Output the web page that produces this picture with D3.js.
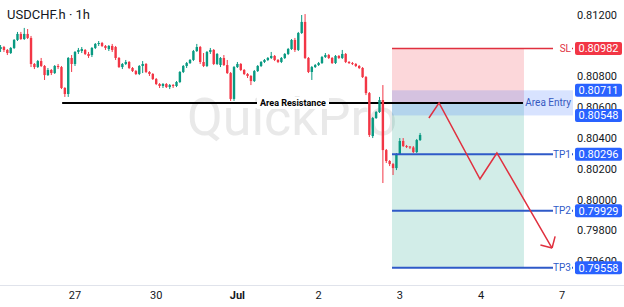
<!DOCTYPE html>
<html>
<head>
<meta charset="utf-8">
<script src="https://cdn.jsdelivr.net/npm/d3@7"></script>
<style>
  body { margin: 0; background: #fff; }
  svg { display: block; font-family: Roboto, "Noto Sans", sans-serif; }
</style>
</head>
<body>
<div id="chart"></div>
<script>
// USDCHF.h 1h bars, index 0 = first visible bar, 24 bars per trading day
const opens = [
  0.80979,0.80992,0.80973,0.80953,0.80986,0.81038,0.81077,0.81044,0.81077,0.81051,
  0.80882,0.80862,0.80901,0.80869,0.80810,0.80843,0.80823,0.80869,0.80862,0.80726,
  0.80687,0.80921,0.80882,0.80960,0.80966,0.80973,0.80947,0.80940,0.80986,0.81012,
  0.81018,0.80999,0.80979,0.80999,0.80992,0.80921,0.80862,0.80882,0.80895,0.80856,
  0.80836,0.80817,0.80869,0.80882,0.80830,0.80817,0.80784,0.80752,0.80739,0.80752,
  0.80732,0.80745,0.80739,0.80765,0.80830,0.80869,0.80888,0.80908,0.80966,0.80992,
  0.80895,0.80869,0.80960,0.80973,0.80882,0.80875,0.80921,0.80875,0.80823,0.80655,
  0.80862,0.80882,0.80843,0.80817,0.80804,0.80771,0.80836,0.80869,0.80895,0.80908,
  0.80921,0.80934,0.80908,0.80895,0.80921,0.80947,0.80979,0.81038,0.80973,0.81083,
  0.81155,0.80921,0.80830,0.80862,0.80875,0.80888,0.80927,0.80940,0.80921,0.80888,
  0.80934,0.80921,0.80947,0.80895,0.80888,0.80882,0.80869,0.80856,0.80797,0.80693,
  0.80414,0.80531,0.80570,0.80648,0.80323,0.80252,0.80232,0.80206,0.80297,0.80382,
  0.80349,0.80346,0.80340,0.80310,0.80388
];
const highs = [
  0.81005,0.80999,0.80979,0.80992,0.81044,0.81090,0.81090,0.81116,0.81109,0.81064,
  0.80888,0.80908,0.80921,0.80875,0.80856,0.80849,0.80875,0.80882,0.80869,0.80732,
  0.80927,0.80940,0.80966,0.80986,0.80992,0.80979,0.80960,0.80992,0.81018,0.81031,
  0.81025,0.81005,0.81005,0.81012,0.80999,0.80927,0.80888,0.80908,0.80901,0.80862,
  0.80843,0.80875,0.80901,0.80888,0.80836,0.80823,0.80791,0.80758,0.80758,0.80758,
  0.80752,0.80752,0.80771,0.80836,0.80875,0.80895,0.80914,0.80973,0.81012,0.80999,
  0.80953,0.80966,0.80986,0.80979,0.80953,0.80927,0.80940,0.80908,0.80830,0.80869,
  0.80895,0.80888,0.80849,0.80823,0.80810,0.80843,0.80875,0.80901,0.80914,0.80927,
  0.80960,0.80940,0.80914,0.80927,0.80953,0.80986,0.81044,0.81051,0.81090,0.81200,
  0.81206,0.80927,0.80869,0.80882,0.80895,0.80934,0.80953,0.80947,0.80927,0.80940,
  0.80940,0.80973,0.80953,0.80901,0.80895,0.80888,0.80875,0.80862,0.80804,0.80700,
  0.80538,0.80577,0.80668,0.80745,0.80330,0.80258,0.80239,0.80304,0.80401,0.80401,
  0.80356,0.80349,0.80349,0.80395,0.80434
];
const lows = [
  0.80960,0.80960,0.80940,0.80947,0.80979,0.81031,0.81038,0.81038,0.81044,0.80862,
  0.80849,0.80856,0.80862,0.80778,0.80804,0.80810,0.80817,0.80849,0.80719,0.80668,
  0.80668,0.80830,0.80869,0.80947,0.80953,0.80940,0.80921,0.80927,0.80979,0.80999,
  0.80992,0.80973,0.80966,0.80960,0.80908,0.80856,0.80849,0.80875,0.80849,0.80830,
  0.80810,0.80810,0.80823,0.80823,0.80804,0.80778,0.80745,0.80726,0.80726,0.80726,
  0.80719,0.80726,0.80732,0.80758,0.80823,0.80856,0.80882,0.80901,0.80960,0.80882,
  0.80862,0.80862,0.80947,0.80875,0.80875,0.80862,0.80869,0.80817,0.80642,0.80642,
  0.80856,0.80836,0.80810,0.80791,0.80745,0.80765,0.80830,0.80862,0.80888,0.80901,
  0.80914,0.80901,0.80888,0.80888,0.80914,0.80940,0.80973,0.80960,0.80966,0.81077,
  0.80914,0.80823,0.80778,0.80856,0.80869,0.80882,0.80921,0.80914,0.80882,0.80882,
  0.80914,0.80914,0.80888,0.80882,0.80875,0.80862,0.80849,0.80791,0.80680,0.80408,
  0.80401,0.80525,0.80564,0.80109,0.80239,0.80219,0.80161,0.80193,0.80291,0.80343,
  0.80336,0.80330,0.80304,0.80304,0.80382
];
const closes = [
  0.80992,0.80973,0.80953,0.80986,0.81038,0.81077,0.81044,0.81077,0.81051,0.80882,
  0.80862,0.80901,0.80869,0.80810,0.80843,0.80823,0.80869,0.80862,0.80726,0.80687,
  0.80921,0.80882,0.80960,0.80973,0.80979,0.80947,0.80934,0.80986,0.81012,0.81018,
  0.80999,0.80986,0.80999,0.80973,0.80921,0.80862,0.80882,0.80895,0.80856,0.80836,
  0.80817,0.80869,0.80882,0.80830,0.80817,0.80784,0.80752,0.80739,0.80752,0.80732,
  0.80745,0.80739,0.80765,0.80830,0.80869,0.80888,0.80908,0.80966,0.80992,0.80895,
  0.80869,0.80960,0.80973,0.80882,0.80947,0.80921,0.80875,0.80823,0.80655,0.80862,
  0.80882,0.80843,0.80817,0.80804,0.80771,0.80836,0.80869,0.80895,0.80908,0.80921,
  0.80934,0.80908,0.80895,0.80921,0.80947,0.80979,0.81038,0.80973,0.81083,0.81155,
  0.80921,0.80830,0.80862,0.80875,0.80888,0.80927,0.80940,0.80921,0.80888,0.80934,
  0.80921,0.80947,0.80895,0.80888,0.80882,0.80869,0.80856,0.80797,0.80693,0.80421,
  0.80531,0.80570,0.80648,0.80323,0.80252,0.80232,0.80206,0.80297,0.80382,0.80349,
  0.80346,0.80340,0.80310,0.80388,0.80421
];

const dayIndex = [22, 46, 70, 94, 118, 142, 166];
const dayLabels = ['27', '30', 'Jul', '2', '3', '4', '7'];
// 0.81000 sits fully under the SL label in the source, so it is left out
const priceTicks = [0.812, 0.808, 0.806, 0.804, 0.802, 0.800, 0.798, 0.796];

// trade setup drawn on the chart
const areaResistance = 0.80629;
const resistanceFrom = 18.2, resistanceTo = 154.4;
const entryTop = 0.80711, entryBottom = 0.80548;
const stopLoss = 0.80982;
const targets = [0.80296, 0.79929, 0.79558];
const targetNames = ['TP1', 'TP2', 'TP3'];
const positionFrom = 115.7, positionTo = 154.7;
const pathIndex = [126.6, 129.6, 141.7, 146.7, 163];
const pathPrice = [0.80531, 0.80629, 0.80135, 0.80304, 0.79687];

const W = 624, H = 307;
const plotRight = 573, plotBottom = 285;
const fmt = d3.format('.5f');

const svg = d3.select('#chart').append('svg')
  .attr('width', W)
  .attr('height', H);

const x = d3.scaleLinear().domain([22, 166]).range([75, 562.2]);
const y = d3.scaleLinear().domain([0.794468, 0.812974]).range([plotBottom, 0]);

const red = '#f23645', green = '#089981', blue = '#2962ff';

// watermark
svg.append('text')
  .attr('x', 187).attr('y', 135)
  .attr('font-size', 52)
  .attr('fill', '#e9e9e9')
  .text('QuickPro');

// position zones
svg.append('rect')//risk
  .attr('x', x(positionFrom)).attr('width', x(positionTo) - x(positionFrom))
  .attr('y', y(stopLoss)).attr('height', y(areaResistance) - y(stopLoss))
  .attr('fill', red).attr('fill-opacity', 0.2);

svg.append('rect')//reward
  .attr('x', x(positionFrom)).attr('width', x(positionTo) - x(positionFrom))
  .attr('y', y(areaResistance)).attr('height', y(targets[2]) - y(areaResistance))
  .attr('fill', green).attr('fill-opacity', 0.18);

svg.append('rect')//area entry band
  .attr('x', x(positionFrom)).attr('width', plotRight - x(positionFrom))
  .attr('y', y(entryTop)).attr('height', y(entryBottom) - y(entryTop))
  .attr('fill', blue).attr('fill-opacity', 0.18);

// area resistance line
svg.append('line')
  .attr('x1', x(resistanceFrom)).attr('x2', x(resistanceTo))
  .attr('y1', y(areaResistance)).attr('y2', y(areaResistance))
  .attr('stroke', '#000').attr('stroke-width', 2);

const resLabel = svg.append('g')
  .attr('transform', 'translate(' + 293 + ',' + y(areaResistance) + ')');
resLabel.append('rect')
  .attr('x', -36).attr('y', -6).attr('width', 72).attr('height', 12)
  .attr('fill', '#fff');
resLabel.append('text')
  .attr('text-anchor', 'middle').attr('dy', '0.35em')
  .attr('font-size', 9).attr('font-weight', 'bold')
  .attr('fill', '#000')
  .text('Area Resistance');

// candles
const bars = svg.append('g');
const bw = 2.4;
closes.forEach((c, i) => {
  const o = opens[i];
  const col = c >= o ? green : red;
  bars.append('line')
    .attr('x1', x(i)).attr('x2', x(i))
    .attr('y1', y(highs[i])).attr('y2', y(lows[i]))
    .attr('stroke', col).attr('stroke-width', 1);
  bars.append('rect')
    .attr('x', x(i) - bw / 2).attr('width', bw)
    .attr('y', y(Math.max(o, c)))
    .attr('height', Math.max(1, Math.abs(y(o) - y(c))))
    .attr('fill', col);
});

// y axis labels
svg.append('g').selectAll('text')
  .data(priceTicks)
  .enter().append('text')
    .attr('x', 617).attr('y', d => y(d))
    .attr('dy', '0.35em')
    .attr('text-anchor', 'end')
    .attr('font-size', 11)
    .attr('fill', '#131722')
    .text(d => fmt(d));

// x axis
svg.append('line')
  .attr('x1', 0).attr('x2', W)
  .attr('y1', plotBottom + 0.5).attr('y2', plotBottom + 0.5)
  .attr('stroke', '#e0e3eb');

svg.append('g').selectAll('text')
  .data(dayIndex)
  .enter().append('text')
    .attr('x', d => x(d)).attr('y', 295)
    .attr('dy', '0.35em')
    .attr('text-anchor', 'middle')
    .attr('font-size', 11)
    .attr('font-weight', (d, i) => dayLabels[i] === 'Jul' ? 'bold' : 'normal')
    .attr('fill', '#131722')
    .text((d, i) => dayLabels[i]);

// SL and TP levels
const levels = [{ name: 'SL', price: stopLoss, color: '#e0303f', box: red }]
  .concat(targets.map((p, i) => ({ name: targetNames[i], price: p, color: '#2f5ac8', box: blue })));

levels.forEach(l => {
  svg.append('line')
    .attr('x1', x(positionFrom)).attr('x2', plotRight)
    .attr('y1', y(l.price)).attr('y2', y(l.price))
    .attr('stroke', l.color).attr('stroke-width', l.name === 'SL' ? 1.5 : 2);
  svg.append('rect')
    .attr('x', 553).attr('y', y(l.price) - 6).attr('width', 19).attr('height', 12)
    .attr('fill', '#fff');
  svg.append('text')
    .attr('x', 571).attr('y', y(l.price)).attr('dy', '0.35em')
    .attr('text-anchor', 'end')
    .attr('font-size', 10)
    .attr('fill', l.color)
    .text(l.name);
});

svg.append('text')
  .attr('x', 571).attr('y', y(areaResistance)).attr('dy', '0.35em')
  .attr('text-anchor', 'end')
  .attr('font-size', 10)
  .attr('fill', '#3558c0')
  .text('Area Entry');

// projected path
const path = pathIndex.map((d, i) => [x(d), y(pathPrice[i])]);
svg.append('path')
  .attr('d', d3.line()(path))
  .attr('fill', 'none')
  .attr('stroke', '#e0303f').attr('stroke-width', 1.5);

const tip = path[path.length - 1], prev = path[path.length - 2];
const ang = Math.atan2(prev[1] - tip[1], prev[0] - tip[0]);
[-Math.PI / 4, Math.PI / 4].forEach(a => {
  svg.append('line')
    .attr('x1', tip[0]).attr('y1', tip[1])
    .attr('x2', tip[0] + 12 * Math.cos(ang + a))
    .attr('y2', tip[1] + 12 * Math.sin(ang + a))
    .attr('stroke', '#e0303f').attr('stroke-width', 1.5);
});

// price label boxes
const boxes = [
  { price: stopLoss, color: red },
  { price: entryTop, color: blue },
  { price: entryBottom, color: blue }
].concat(targets.map(p => ({ price: p, color: blue })));

boxes.forEach(b => {
  svg.append('rect')
    .attr('x', 575).attr('y', y(b.price) - 6.5)
    .attr('width', 47).attr('height', 13)
    .attr('rx', 2)
    .attr('fill', b.color);
  svg.append('text')
    .attr('x', 598.5).attr('y', y(b.price)).attr('dy', '0.35em')
    .attr('text-anchor', 'middle')
    .attr('font-size', 11)
    .attr('fill', '#fff')
    .text(fmt(b.price));
});

// title
svg.append('text')
  .attr('x', 7).attr('y', 19)
  .attr('font-size', 13)
  .attr('fill', '#131722')
  .text('USDCHF.h \u00b7 1h');
</script>
</body>
</html>
